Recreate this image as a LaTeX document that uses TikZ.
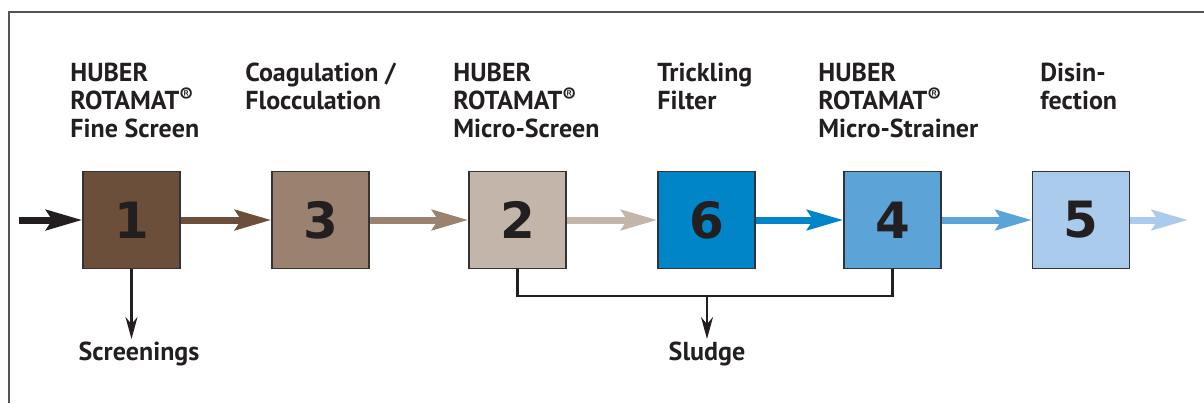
\documentclass[tikz,border=0pt]{standalone}
\usepackage{fontspec}
\setmainfont{PT Sans}
\newfontfamily\digitfont{DejaVu Sans}
\usetikzlibrary{arrows.meta,positioning}

\definecolor{ink}{HTML}{231F20}
\definecolor{frameline}{HTML}{555555}
\definecolor{boxline}{HTML}{333333}
\definecolor{stageA}{HTML}{6B4F3A}
\definecolor{stageB}{HTML}{9A8170}
\definecolor{stageC}{HTML}{C4B5AA}
\definecolor{stageD}{HTML}{0085C8}
\definecolor{stageE}{HTML}{5CA4D8}
\definecolor{stageF}{HTML}{AACBEB}

\newcommand{\regmark}{\raisebox{0.3em}{\fontsize{10}{10}\selectfont ®}}

\tikzset{
  box/.style={draw=boxline, line width=0.7pt, minimum size=48.5pt, inner sep=0pt,
    font=\digitfont\fontsize{25}{25}\selectfont\bfseries, text=ink},
  flow/.style={line width=3.5pt, -{Stealth[length=18pt, width=10pt, inset=3pt]}},
  drop/.style={ink, line width=1.1pt, -{Stealth[length=11pt, width=6pt]}},
  lbl/.style={anchor=north west, inner sep=0pt, align=left,
    font=\fontsize{13}{14}\selectfont\bfseries, text=ink},
  sink/.style={anchor=north, inner sep=1.5pt, font=\fontsize{13}{14}\selectfont\bfseries, text=ink},
}

\begin{document}
\begin{tikzpicture}[x=0.5pt, y=-0.5pt]
    \useasboundingbox (0,0) rectangle (1204,403);

    % Frame
    \draw[frameline, line width=0.6pt] (9,403) -- (9,12) -- (1204,12);

    % Process stages
    \node[box, fill=stageA] (b1) at (131.5,220) {1};
    \node[box, fill=stageB] (b3) at (320.5,220) {3};
    \node[box, fill=stageC] (b2) at (517.5,220) {2};
    \node[box, fill=stageD] (b6) at (706.5,220) {6};
    \node[box, fill=stageE] (b4) at (892.5,220) {4};
    \node[box, fill=stageF] (b5) at (1081,220) {5};

    % Stage labels
    \node[lbl] (l1) at (70,63) {HUBER\\ROTAMAT\regmark\\Fine Screen};
    \node[lbl] (l3) at (245,63) {Coagulation /\\Flocculation};
    \node[lbl] (l2) at (453,63) {HUBER\\ROTAMAT\regmark\\Micro-Screen};
    \node[lbl] (l6) at (657,63) {Trickling\\Filter};
    \node[lbl] (l4) at (818,63) {HUBER\\ROTAMAT\regmark\\Micro-Strainer};
    \node[lbl] (l5) at (1040,63) {Disin-\\fection};

    % Main flow
    \coordinate (in) at (19,220);
    \coordinate (out) at (1188,220);
    \draw[flow, ink] (in) -- (b1.west);
    \draw[flow, stageA] (b1.east) -- (b3.west);
    \draw[flow, stageB] (b3.east) -- (b2.west);
    \draw[flow, stageC] (b2.east) -- (b6.west);
    \draw[flow, stageD] (b6.east) -- (b4.west);
    \draw[flow, stageE] (b4.east) -- (b5.west);
    \draw[flow, stageF] (b5.east) -- (out);

    % Screenings
    \node[sink] (scr) at (139,339) {Screenings};
    \draw[drop] (b1.south) -- (b1.south |- scr.north);

    % Sludge collection
    \coordinate (sj) at (707,296);
    \node[sink] (sludge) at (707,339) {Sludge};
    \draw[ink, line width=1.1pt] (b2.south) |- (sj) -| (b4.south);
    \draw[drop] (sj) -- (sludge.north);
\end{tikzpicture}
\end{document}
